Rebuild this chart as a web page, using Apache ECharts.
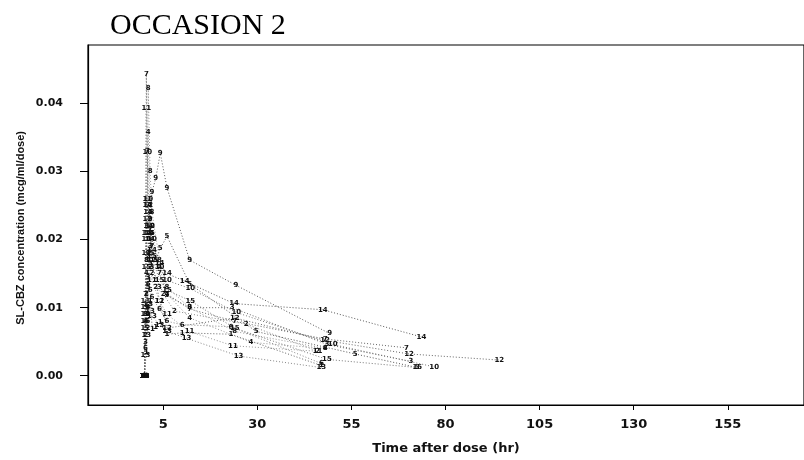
<!DOCTYPE html>
<html>
<head>
<meta charset="utf-8">
<script src="https://cdn.jsdelivr.net/npm/echarts@6/dist/echarts.min.js"></script>
<style>
html,body{margin:0;padding:0;background:#fff;}
#chart{width:804px;height:460px;}
</style>
</head>
<body>
<div id="chart"></div>
<script>
// ---- Data (time in hr, concentration in mcg/ml/dose) ----
const subjects = ["1","2","3","4","5","6","7","8","9","10","11","12","13","14","15"];
const t1  = [0, 0.5, 1, 1.5, 2.1, 3, 4.2, 6, 10, 23, 47];
const c1  = [0, 0.0035, 0.0090, 0.0110, 0.0068, 0.0072, 0.0078, 0.0061, 0.0063, 0.0061, 0.0015];
const t2  = [0, 0.25, 0.5, 1, 1.5, 2, 3, 5, 8, 27, 46];
const c2  = [0, 0.0060, 0.0120, 0.0175, 0.0160, 0.0150, 0.0130, 0.0120, 0.0095, 0.0076, 0.0036];
const t3  = [0, 0.25, 0.5, 1, 1.5, 2, 4, 6, 12, 23.3, 48.5, 70.8];
const c3  = [0, 0.0050, 0.0090, 0.0145, 0.0190, 0.0160, 0.0130, 0.0118, 0.0100, 0.0100, 0.0046, 0.0021];
const t4  = [0, 0.25, 0.5, 1, 1.5, 2, 4, 6, 12, 28.3, 48];
const c4  = [0, 0.0080, 0.0150, 0.0358, 0.0240, 0.0210, 0.0160, 0.0120, 0.0085, 0.0049, 0.0040];
const t5  = [0, 0.5, 1, 1.5, 2, 3, 4.2, 6, 12, 29.7, 56, 72.5];
const c5  = [0, 0.0070, 0.0130, 0.0165, 0.0180, 0.0170, 0.0187, 0.0205, 0.0135, 0.0065, 0.0032, 0.0012];
const t6  = [0, 0.25, 0.5, 1, 1.5, 2, 4, 6, 10, 23, 47];
const c6  = [0, 0.0040, 0.0080, 0.0135, 0.0125, 0.0115, 0.0098, 0.0080, 0.0075, 0.0072, 0.0018];
const t7  = [0, 0.25, 0.5, 0.75, 1, 1.5, 2, 4, 6, 12, 24, 48, 69.6];
const c7  = [0, 0.0120, 0.0443, 0.0330, 0.0250, 0.0215, 0.0190, 0.0150, 0.0120, 0.0098, 0.0080, 0.0054, 0.0041];
const t8  = [0, 0.25, 0.5, 1, 1.5, 2, 4, 6, 12, 24, 48];
const c8  = [0, 0.0090, 0.0170, 0.0423, 0.0300, 0.0240, 0.0170, 0.0130, 0.0100, 0.0065, 0.0040];
const t9  = [0, 0.5, 1, 1.5, 2, 3, 4.2, 6, 12, 24.3, 49.2];
const c9  = [0, 0.0100, 0.0180, 0.0230, 0.0270, 0.0290, 0.0327, 0.0276, 0.0170, 0.0133, 0.0062];
const t10 = [0, 0.25, 0.5, 0.75, 1, 1.5, 2, 4, 6, 12.2, 24.4, 50, 77];
const c10 = [0, 0.0090, 0.0200, 0.0328, 0.0260, 0.0220, 0.0200, 0.0160, 0.0140, 0.0128, 0.0093, 0.0046, 0.0013];
const t11 = [0, 0.25, 0.5, 0.75, 1, 1.5, 2, 4, 6, 12, 23.5, 46];
const c11 = [0, 0.0110, 0.0393, 0.0260, 0.0210, 0.0170, 0.0140, 0.0110, 0.0090, 0.0065, 0.0044, 0.0036];
const t12 = [0, 0.25, 0.5, 0.75, 1, 1.5, 2, 4, 6, 24, 48, 70.3, 94.3];
const c12 = [0, 0.0070, 0.0180, 0.0230, 0.0250, 0.0220, 0.0170, 0.0110, 0.0070, 0.0085, 0.0052, 0.0032, 0.0023];
const t13 = [0, 0.25, 0.5, 1, 1.5, 2, 4, 6, 11.2, 25, 47];
const c13 = [0, 0.0030, 0.0060, 0.0105, 0.0095, 0.0088, 0.0075, 0.0065, 0.0055, 0.0029, 0.0012];
const t14 = [0, 0.25, 0.5, 0.75, 1, 1.5, 2, 4, 6, 10.7, 23.8, 47.4, 73.6];
const c14 = [0, 0.0100, 0.0210, 0.0250, 0.0220, 0.0200, 0.0185, 0.0165, 0.0150, 0.0139, 0.0106, 0.0097, 0.0057];
const t15 = [0, 0.25, 0.5, 1, 1.5, 2, 4, 6, 12.2, 24, 48.5, 72.5];
const c15 = [0, 0.0080, 0.0160, 0.0240, 0.0210, 0.0175, 0.0140, 0.0126, 0.0110, 0.0070, 0.0024, 0.0012];

const xTicks = [5, 30, 55, 80, 105, 130, 155];
const yTicks = [0, 0.01, 0.02, 0.03, 0.04];

const times = [t1,t2,t3,t4,t5,t6,t7,t8,t9,t10,t11,t12,t13,t14,t15];
const concs = [c1,c2,c3,c4,c5,c6,c7,c8,c9,c10,c11,c12,c13,c14,c15];

const lineColors = ['#666','#888','#666','#999','#555','#888','#666','#999','#555','#777','#999','#666','#888','#555','#777'];

const series = subjects.map((name, i) => ({
  name: name,
  type: 'line',
  data: times[i].map((t, j) => [t, concs[i][j]]),
  symbol: 'rect',
  symbolSize: 1,
  showSymbol: true,
  itemStyle: { color: 'transparent' },
  lineStyle: { color: lineColors[i], width: 1, type: [1, 2] },
  label: {
    show: true, position: 'inside', formatter: name,
    fontSize: 7, fontWeight: 'bold', color: '#111',
    fontFamily: 'DejaVu Sans'
  },
  labelLayout: { hideOverlap: false },
  emphasis: { disabled: true },
  silent: true,
  animation: false
}));

const chart = echarts.init(document.getElementById('chart'), null, { renderer: 'canvas' });
chart.setOption({
  animation: false,
  backgroundColor: '#fff',
  title: {
    text: 'OCCASION 2', left: 110, top: 11, padding: 0,
    textStyle: { fontFamily: 'Liberation Serif', fontSize: 30, fontWeight: 'normal', color: '#000' }
  },
  grid: { left: 88, right: -10, top: 45, bottom: 52, show: true, borderColor: '#000', borderWidth: 1.2, backgroundColor: 'transparent' },
  xAxis: {
    type: 'value', min: -15, max: 175.25,
    name: 'Time after dose (hr)', nameLocation: 'middle', nameGap: 37,
    nameTextStyle: { fontFamily: 'DejaVu Sans', fontSize: 13, fontWeight: 'bold', color: '#111' },
    axisLine: { show: true, onZero: false, lineStyle: { color: '#000', width: 1.2 } },
    axisTick: { show: true, length: 5, customValues: xTicks, lineStyle: { color: '#000' } },
    axisLabel: { customValues: xTicks, margin: 13, fontFamily: 'DejaVu Sans', fontSize: 13, fontWeight: 'bold', color: '#111' },
    splitLine: { show: false }
  },
  yAxis: {
    type: 'value', min: -0.0043, max: 0.0486,
    axisLine: { show: true, onZero: false, lineStyle: { color: '#000', width: 1.2 } },
    axisTick: { show: true, length: 8, customValues: yTicks, lineStyle: { color: '#000' } },
    axisLabel: { customValues: yTicks, margin: 25, fontFamily: 'DejaVu Sans', fontSize: 11, fontWeight: 'bold', color: '#111',
      formatter: v => v.toFixed(2) },
    splitLine: { show: false }
  },
  graphic: [{
    type: 'text', left: 15, top: 131,
    rotation: Math.PI / 2,
    style: { text: 'SL-CBZ concentration (mcg/ml/dose)', fontFamily: 'Liberation Sans', fontSize: 11, fontWeight: 'bold', fill: '#111' }
  }],
  series: series
});
</script>
</body>
</html>
